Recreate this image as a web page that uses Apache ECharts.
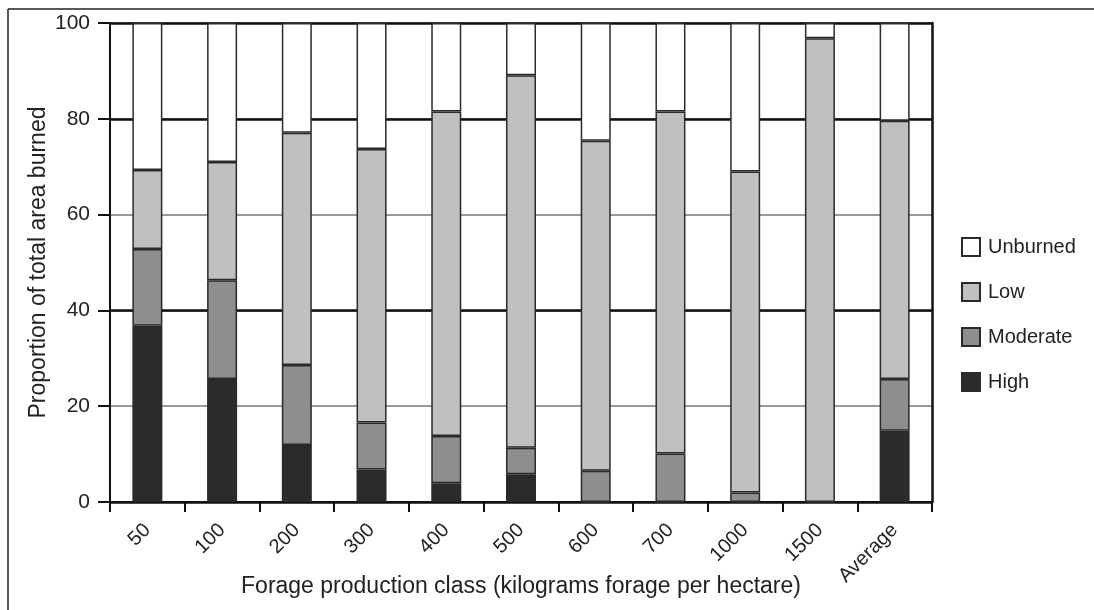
<!DOCTYPE html>
<html>
<head>
<meta charset="utf-8">
<script src="https://cdn.jsdelivr.net/npm/echarts@6/dist/echarts.min.js"></script>
<style>
  html, body { margin: 0; padding: 0; background: #fff; }
  #main { width: 1094px; height: 610px; }
</style>
</head>
<body>
<div id="main"></div>
<script>
// data (percent of area in each class, stacked to 100)
const categories = ['50', '100', '200', '300', '400', '500', '600', '700', '1000', '1500', 'Average'];
const high     = [36.8, 25.7, 11.9, 6.8, 3.9, 5.8, 0, 0, 0, 0, 14.9];
const moderate = [16.0, 20.6, 16.7, 9.8, 9.9, 5.5, 6.5, 10.1, 2.0, 0, 10.8];
const low      = [16.5, 24.7, 48.5, 57.1, 67.7, 77.8, 68.9, 71.4, 67.0, 96.8, 53.9];
const unburned = [30.7, 29.0, 22.9, 26.3, 18.5, 10.9, 24.6, 18.5, 31.0, 3.2, 20.4];
const yTicks = [0, 20, 40, 60, 80, 100];

const FONT = 'Liberation Sans';

const myChart = echarts.init(document.getElementById('main'), null, { renderer: 'canvas' });

const seriesDefs = [
  { name: 'High', data: high, color: '#2b2b2b' },
  { name: 'Moderate', data: moderate, color: '#8e8e8e' },
  { name: 'Low', data: low, color: '#c0c0c0' },
  { name: 'Unburned', data: unburned, color: '#ffffff' }
];

const series = seriesDefs.map(s => ({
  name: s.name,
  type: 'bar',
  stack: 'total',
  barWidth: 30,
  data: s.data,
  itemStyle: {
    color: s.color,
    borderColor: '#2a2a2a',
    borderWidth: 1.5
  }
}));

const option = {
  backgroundColor: '#fff',
  animation: false,
  textStyle: { fontFamily: FONT },
  grid: {
    left: 110,
    right: 162,
    top: 23,
    bottom: 108,
    containLabel: false,
    outerBoundsMode: 'none'
  },
  legend: {
    orient: 'vertical',
    left: 956,
    top: 232,
    data: ['Unburned', 'Low', 'Moderate', 'High'],
    itemWidth: 18,
    itemHeight: 18,
    itemGap: 25,
    icon: 'rect',
    textStyle: { fontSize: 20, color: '#222', fontFamily: FONT, padding: [0, 0, 0, 3] }
  },
  xAxis: {
    type: 'category',
    data: categories,
    name: 'Forage production class (kilograms forage per hectare)',
    nameLocation: 'middle',
    nameGap: 73,
    nameMoveOverlap: false,
    nameTextStyle: { fontSize: 23, color: '#222', fontFamily: FONT },
    axisLine: { show: true, lineStyle: { color: '#111', width: 2 } },
    axisTick: { show: true, length: 10, lineStyle: { color: '#111', width: 2 } },
    axisLabel: { rotate: 45, fontSize: 20, color: '#222', margin: 25, fontFamily: FONT }
  },
  yAxis: [
    {
      type: 'value',
      min: 0,
      max: 100,
      interval: 20,
      name: 'Proportion of total area burned',
      nameLocation: 'middle',
      nameGap: 60,
      nameMoveOverlap: false,
      nameTextStyle: { fontSize: 23, color: '#222', fontFamily: FONT },
      axisLine: { show: true, lineStyle: { color: '#111', width: 2 } },
      axisTick: { show: true, length: 12, lineStyle: { color: '#111', width: 2 } },
      axisLabel: {
        fontSize: 21, color: '#222', margin: 20, fontFamily: FONT,
        formatter: v => (yTicks.indexOf(v) >= 0 ? String(v) : '')
      },
      splitLine: { show: true, lineStyle: { color: '#777', width: 1.5 } }
    },
    {
      // heavier lines at 40, 80 and 100, plus the right frame
      type: 'value',
      min: 0,
      max: 100,
      interval: 40,
      position: 'right',
      axisLine: { show: true, lineStyle: { color: '#111', width: 2.5 } },
      axisTick: { show: false },
      axisLabel: { show: false },
      splitLine: { show: true, lineStyle: { color: '#111', width: 2.5 } }
    }
  ],
  graphic: [
    { type: 'line', shape: { x1: 8, y1: 9, x2: 1094, y2: 9 }, style: { stroke: '#222', lineWidth: 1.5 }, silent: true },
    { type: 'line', shape: { x1: 8, y1: 9, x2: 8, y2: 610 }, style: { stroke: '#222', lineWidth: 1.5 }, silent: true }
  ],
  series: series
};

myChart.setOption(option);
</script>
</body>
</html>
